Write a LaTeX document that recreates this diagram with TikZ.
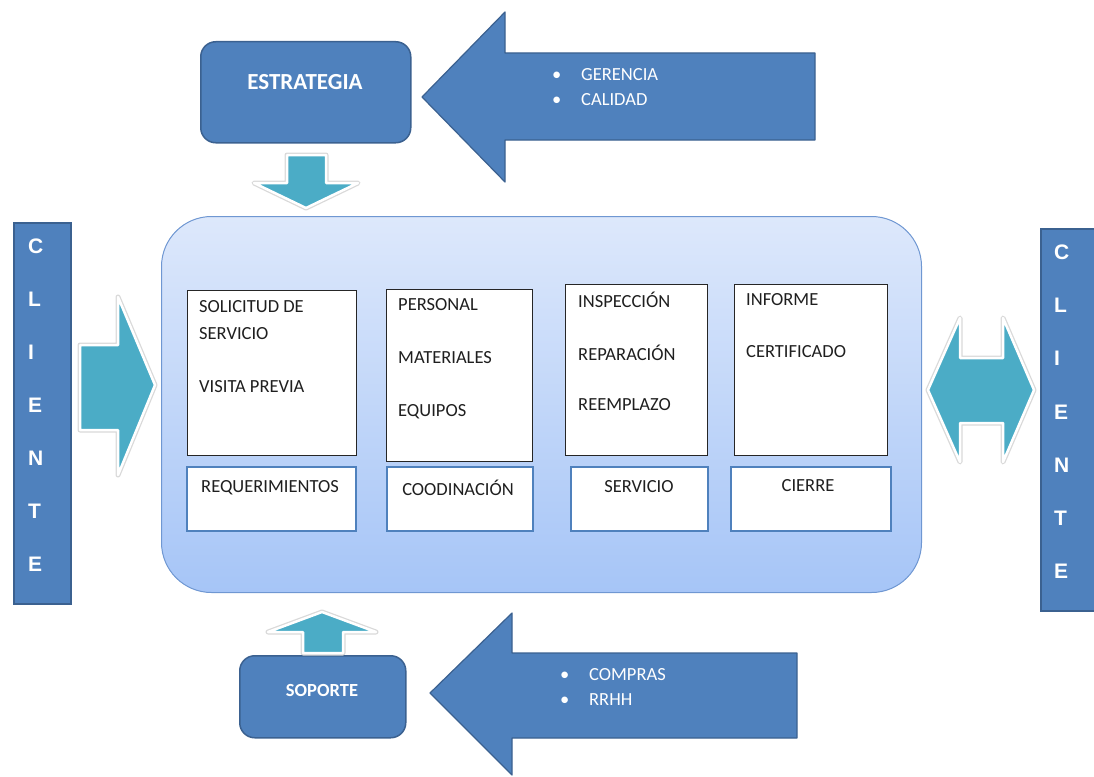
\documentclass[tikz,border=0pt]{standalone}
\usepackage{fontspec}
\setmainfont{Carlito}
\newfontfamily\letterfont{Liberation Sans}
\usetikzlibrary{positioning}
\definecolor{boxblue}{HTML}{4F81BD}
\definecolor{boxedge}{HTML}{3B6190}
\definecolor{arrowteal}{HTML}{4BACC6}
\definecolor{paneltop}{HTML}{DDE8FB}
\definecolor{panelbot}{HTML}{A6C5F7}
\definecolor{paneledge}{HTML}{6F97D2}

\begin{document}
\begin{tikzpicture}[x=1pt, y=1pt, yscale=-1, font=\fontsize{18.5}{22}\selectfont,
	bluebox/.style={draw=boxedge, line width=1.5pt, fill=boxblue, rounded corners=15pt, anchor=north west},
	bluebar/.style={draw=boxedge, line width=1.5pt, fill=boxblue, anchor=north west},
	bigarrow/.style={draw=boxedge, line width=1.2pt, fill=boxblue, line join=round},
	flowarrow/.style={fill=arrowteal, draw=white, line width=2.5pt, line join=round, preaction={draw=black!15, line width=5pt, line join=round}},
	panel/.style={draw=paneledge, line width=1pt, top color=paneltop, bottom color=panelbot, rounded corners=50pt, anchor=north west},
	card/.style={draw=black!85, line width=1.2pt, fill=white, anchor=north west},
	tag/.style={draw=boxblue, line width=2pt, fill=white, anchor=north west},
	item/.style={anchor=west, inner sep=0pt, text=black!88},
	headtext/.style={text=white, font=\fontsize{18.5}{22}\selectfont\bfseries},
	letter/.style={anchor=west, inner sep=0pt, text=white, font=\letterfont\bfseries\fontsize{21}{21}\selectfont}
]
	\useasboundingbox (0,0) rectangle (1094,776);

	\node[panel, minimum width=760, minimum height=376] (proceso) at (161,216) {};

	\node[bluebox, minimum width=210, minimum height=101] (estrategia) at (200,41) {};
	\node[bluebox, minimum width=166, minimum height=82] (soporte) at (239,655) {};
	\node[headtext, font=\fontsize{23}{26}\selectfont\bfseries] (estrategiatxt) at (305,82) {ESTRATEGIA};
	\node[headtext] (soportetxt) at (322,690) {SOPORTE};

	\draw[bigarrow] (422,97) -- (505,12) -- (505,53) -- (815,53) -- (815,140) -- (505,140) -- (505,182) -- cycle;
	\draw[bigarrow] (430,693) -- (512,613) -- (512,653) -- (797,653) -- (797,738) -- (512,738) -- (512,775) -- cycle;
	\foreach \txt/\y [count=\i] in {GERENCIA/75, CALIDAD/100}
		\node[item, text=white] (arriba\i) at (552,\y) {\makebox[29pt][l]{\textbullet}\txt};
	\foreach \txt/\y [count=\i] in {COMPRAS/675, RRHH/700}
		\node[item, text=white] (abajo\i) at (560,\y) {\makebox[29pt][l]{\textbullet}\txt};

	\draw[flowarrow] (287,155) -- (326,155) -- (326,183) -- (358,183) -- (306,208) -- (254,183) -- (287,183) -- cycle;
	\draw[flowarrow] (303,653) -- (343,653) -- (343,632) -- (376,632) -- (322,612) -- (268,632) -- (303,632) -- cycle;
	\draw[flowarrow] (80,345) -- (118,345) -- (118,297) -- (155,385) -- (118,475) -- (118,430) -- (80,430) -- cycle;
	\draw[flowarrow] (928,390) -- (960,318) -- (960,358) -- (1003,358) -- (1003,318) -- (1034,390)
		-- (1003,462) -- (1003,423) -- (960,423) -- (960,462) -- cycle;

	\node[bluebar, minimum width=57, minimum height=381] (clienteizq) at (13,222) {};
	\node[bluebar, minimum width=56, minimum height=382] (clienteder) at (1040,228) {};
	\foreach \c [count=\i] in {C,L,I,E,N,T,E} {
		\node[letter] (izq\i) at (28,{193+53.1*\i}) {\c};
		\node[letter] (der\i) at (1054,{199+53.2*\i}) {\c};
	}

	\foreach \name/\x/\y/\w/\h in {solicitud/187/290/169/165, personal/386/289/146/172, inspeccion/565/284/142/171, informe/734/284/153/171}
		\node[card, minimum width=\w, minimum height=\h] (\name) at (\x,\y) {};
	\foreach \name/\x/\w in {requerimientos/186/169, coordinacion/386/146, servicio/570/137, cierre/730/160}
		\node[tag, minimum width=\w, minimum height=64] (\name) at (\x,466) {};

	\foreach \txt/\x/\y [count=\i] in {SOLICITUD DE/199/307, SERVICIO/199/334, VISITA PREVIA/199/387,
		PERSONAL/398/305, MATERIALES/398/358, EQUIPOS/398/412,
		INSPECCIÓN/578/300, REPARACIÓN/578/353, REEMPLAZO/578/405,
		INFORME/746/300, CERTIFICADO/746/352}
		\node[item] (linea\i) at (\x,\y) {\txt};
	\foreach \txt/\x/\y [count=\i] in {REQUERIMIENTOS/270/488, COODINACIÓN/458/488, SERVICIO/639/487, CIERRE/808/486}
		\node[text=black!88] (etapa\i) at (\x,\y) {\txt};
\end{tikzpicture}
\end{document}
